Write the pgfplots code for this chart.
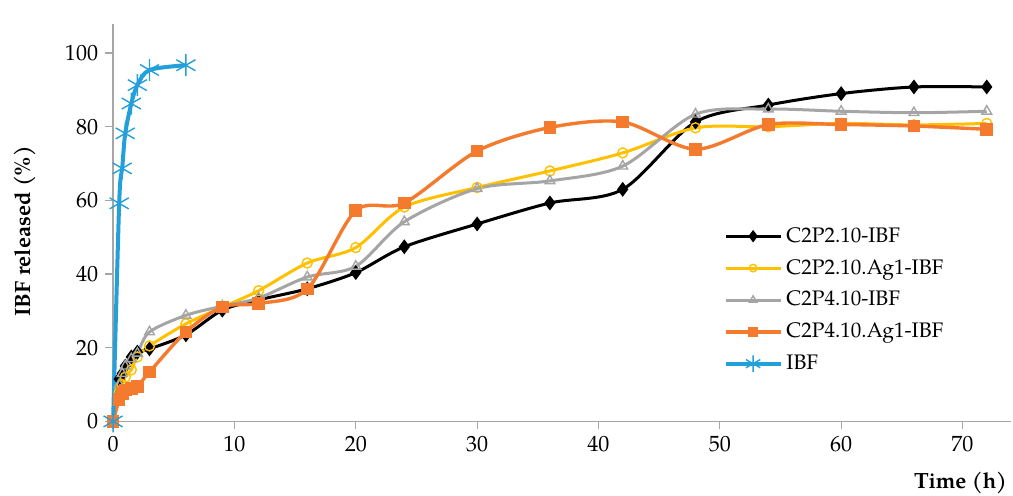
\documentclass[border=0pt]{standalone}
\usepackage{pgfplots}
\pgfplotsset{compat=1.18}
\usepackage{fontspec}
\setmainfont{TeX Gyre Pagella}
\definecolor{cYel}{HTML}{FFC000}
\definecolor{cGray}{HTML}{A5A5A5}
\definecolor{cOra}{HTML}{F47B2E}
\definecolor{cBlue}{HTML}{239FDA}
\definecolor{axgray}{HTML}{A6A6A6}
\begin{document}
\begin{tikzpicture}
\begin{axis}[
  scale only axis, width=448.5pt, height=198.7pt,
  xmin=0, xmax=74, ymin=0, ymax=108,
  axis x line*=bottom, axis y line*=left,
  axis line style={-, draw=axgray, line width=0.8pt},
  xtick={0,10,...,70}, ytick={0,20,...,100},
  tick align=outside, major tick length=4pt,
  tick style={draw=axgray, line width=0.6pt},
  font=\fontsize{11}{13}\selectfont,
  /pgf/number format/assume math mode=true,
  xlabel={\textbf{Time (h)}},
  xlabel style={at={(axis description cs:0.996,-0.127)}, anchor=north east, inner sep=0pt},
  ylabel={\textbf{IBF released (\%)}},
  ylabel style={at={(axis description cs:-0.098,0.478)}, anchor=center, inner sep=0pt},
  clip=false,
  legend cell align=left,
  legend style={at={(axis cs:49.8,55)}, anchor=north west, draw=none, fill=none,
    font=\fontsize{10.5}{12}\selectfont, row sep=3pt},
  legend image code/.code={\draw[mark repeat=2,mark phase=2,every mark/.append style={scale=0.75}] plot coordinates {(0cm,0cm)(0.48cm,0cm)(0.96cm,0cm)};},
]
\addplot[black, line width=1.5pt, smooth, mark=diamond*, mark size=2.5pt, mark options={solid, fill=black}] coordinates {
(0,0)(0.5,11.5)(0.75,13)(1,15)(1.5,17.5)(2,18.8)(3,19.7)(6,23.5)(9,30.2)(12,33)(16,36)(20,40.4)(24,47.4)(30,53.6)(36,59.3)(42,63)(48,81.3)(54,85.9)(60,89)(66,90.8)(72,90.8)};
\addlegendentry{C2P2.10-IBF}
\addplot[cYel, line width=1.5pt, smooth, mark=o, mark size=2.5pt, mark options={solid, fill=white, line width=0.7pt}] coordinates {
(0,0)(0.5,8)(0.75,10)(1,12)(1.5,14)(2,17.5)(3,20.5)(6,26.5)(9,31)(12,35.5)(16,43)(20,47.2)(24,58.2)(30,63.5)(36,68)(42,72.9)(48,79.7)(54,80)(60,80.9)(66,80.5)(72,80.9)};
\addlegendentry{C2P2.10.Ag1-IBF}
\addplot[cGray, line width=1.5pt, smooth, mark=triangle, mark size=2.8pt, mark options={solid, fill=white, line width=0.7pt}] coordinates {
(0,0)(0.5,10)(0.75,13)(1,15)(1.5,17)(2,18.5)(3,24.3)(6,28.8)(9,31.3)(12,33.5)(16,39.2)(20,42.1)(24,54.2)(30,63.2)(36,65.3)(42,69.3)(48,83.4)(54,84.8)(60,84.2)(66,83.8)(72,84.2)};
\addlegendentry{C2P4.10-IBF}
\addplot[cOra, line width=1.7pt, smooth, mark=square*, mark size=2.3pt, mark options={solid, fill=cOra}] coordinates {
(0,0)(0.5,6)(0.75,7.5)(1,8.5)(1.5,9)(2,9.5)(3,13.4)(6,24.3)(9,31.1)(12,32)(16,35.9)(20,57.2)(24,59.3)(30,73.4)(36,79.8)(42,81.3)(48,73.9)(54,80.6)(60,80.6)(66,80.2)(72,79.3)};
\addlegendentry{C2P4.10.Ag1-IBF}
\addplot[cBlue, line width=2pt, smooth, mark=asterisk, mark size=5.5pt, mark options={solid, line width=0.7pt}] coordinates {
(0,0)(0.5,59.2)(0.75,68.7)(1,78.2)(1.5,86.3)(2,91.3)(3,95.4)(6,96.7)};
\addlegendentry{IBF}
\end{axis}
\pgfresetboundingbox
\path ([shift={(-56.5pt,-37pt)}]current axis.south west) rectangle ([shift={(1pt,11.8pt)}]current axis.north east);
\end{tikzpicture}
\end{document}
